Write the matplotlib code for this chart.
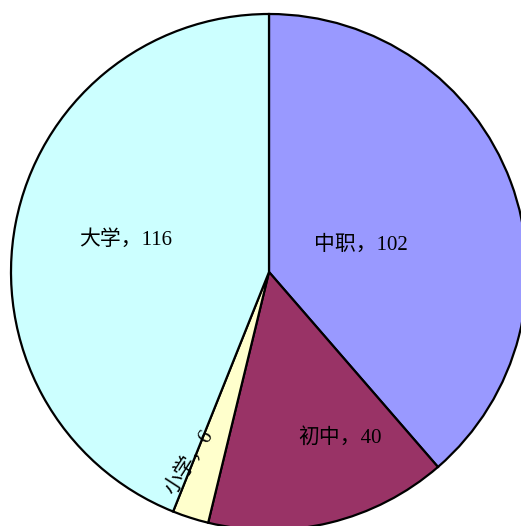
import matplotlib
matplotlib.use("Agg")
from matplotlib import pyplot as plt
import numpy as np

labels = ["中职", "初中", "小学", "大学"]
counts = [102, 40, 6, 116]
colors = ["#9999FF", "#993366", "#FFFFCC", "#CCFFFF"]

plt.rcParams['font.family'] = ['Liberation Serif', 'Noto Sans CJK SC']

fig = plt.figure(figsize=(5.21, 5.26), dpi=100)
ax = fig.add_axes([0, 0, 1, 1])

# pie laid out in pixel-like data units
cx, cy, r = 269, 526 - 272, 258
wedges, _ = ax.pie(counts, colors=colors, startangle=90, counterclock=False,
                   center=(cx, cy), radius=r,
                   wedgeprops=dict(edgecolor="black", linewidth=1.6))
ax.set_xlim(0, 521)
ax.set_ylim(0, 526)
ax.set_aspect("equal")
ax.axis("off")

# label placement: fraction of radius, angle tweak, text rotation per slice
label_dist = [0.37, 0.70, 0.80, 0.57]
angle_tweak = [-4, 9.5, -5, -1.5]
label_rot = [0, 0, 57, 0]
for w, lab, n, d, t, rot in zip(wedges, labels, counts, label_dist, angle_tweak, label_rot):
    mid = (w.theta1 + w.theta2) / 2 + t
    x = cx + d * r * np.cos(np.radians(mid))
    y = cy + d * r * np.sin(np.radians(mid))
    ax.text(x, y, f"{lab}，{n}", ha="center", va="center", fontsize=15,
            rotation=rot, rotation_mode="anchor")

fig.savefig("out.png", dpi=100)
